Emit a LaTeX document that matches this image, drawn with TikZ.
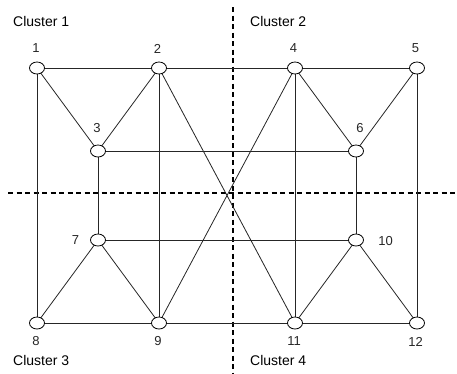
\documentclass[tikz,border=0pt]{standalone}
\usepackage{fontspec}
\setmainfont{Liberation Sans}
\usetikzlibrary{shapes.geometric}
\begin{document}
\begin{tikzpicture}[x=1pt,y=-1pt,
  vtx/.style={ellipse,draw,fill=white,line width=0.8pt,minimum width=15pt,minimum height=12pt,inner sep=0pt},
  edge/.style={line width=0.8pt,draw=black!85},
  divider/.style={line width=1.3pt,dash pattern=on 5pt off 3.5pt},
  lbl/.style={font=\fontsize{13}{15}\selectfont,inner sep=0pt,text=black!85},
  clus/.style={font=\fontsize{14}{16}\selectfont,inner sep=0pt,anchor=base west}]
\useasboundingbox (0,0) rectangle (457,373);
% dividers
\coordinate (vt) at (233,7);
\coordinate (vb) at (233,373);
\coordinate (hl) at (8,193);
\coordinate (hr) at (457,193);
\draw[divider] (vt) -- (vb);
\draw[divider] (hl) -- (hr);
% vertex positions
\coordinate (p1) at (37,68);
\coordinate (p2) at (159,68);
\coordinate (p4) at (295,68);
\coordinate (p5) at (417,68);
\coordinate (p3) at (98,151);
\coordinate (p6) at (356,151);
\coordinate (p7) at (98,240);
\coordinate (p10) at (356,240);
\coordinate (p8) at (37,323);
\coordinate (p9) at (159,323);
\coordinate (p11) at (295,323);
\coordinate (p12) at (417,323);
% edges
\draw[edge] (p1) -- (p2);
\draw[edge] (p2) -- (p4);
\draw[edge] (p4) -- (p5);
\draw[edge] (p1) -- (p8);
\draw[edge] (p1) -- (p3);
\draw[edge] (p2) -- (p3);
\draw[edge] (p2) -- (p9);
\draw[edge] (p2) -- (p11);
\draw[edge] (p4) -- (p9);
\draw[edge] (p4) -- (p11);
\draw[edge] (p4) -- (p6);
\draw[edge] (p5) -- (p6);
\draw[edge] (p5) -- (p12);
\draw[edge] (p3) -- (p6);
\draw[edge] (p3) -- (p7);
\draw[edge] (p6) -- (p10);
\draw[edge] (p7) -- (p10);
\draw[edge] (p7) -- (p8);
\draw[edge] (p7) -- (p9);
\draw[edge] (p10) -- (p11);
\draw[edge] (p10) -- (p12);
\draw[edge] (p8) -- (p9);
\draw[edge] (p9) -- (p11);
\draw[edge] (p11) -- (p12);
% vertices
\foreach \i in {1,2,3,4,5,6,7,8,9,10,11,12} {\node[vtx] (n\i) at (p\i) {};}
% labels
\node[lbl] (l1) at (36,48.5) {1};
\node[lbl] (l2) at (157.5,48.5) {2};
\node[lbl] (l3) at (97,128) {3};
\node[lbl] (l4) at (293.5,48.5) {4};
\node[lbl] (l5) at (415.5,48.5) {5};
\node[lbl] (l6) at (360,128) {6};
\node[lbl] (l7) at (75.5,240.5) {7};
\node[lbl] (l8) at (36,341.5) {8};
\node[lbl] (l9) at (158,341.5) {9};
\node[lbl] (l10) at (385.5,241) {10};
\node[lbl] (l11) at (294,341.5) {11};
\node[lbl] (l12) at (415.5,341.5) {12};
\node[clus] (c1) at (13,26) {Cluster 1};
\node[clus] (c2) at (250,26) {Cluster 2};
\node[clus] (c3) at (13,365) {Cluster 3};
\node[clus] (c4) at (250,365) {Cluster 4};
\end{tikzpicture}
\end{document}
